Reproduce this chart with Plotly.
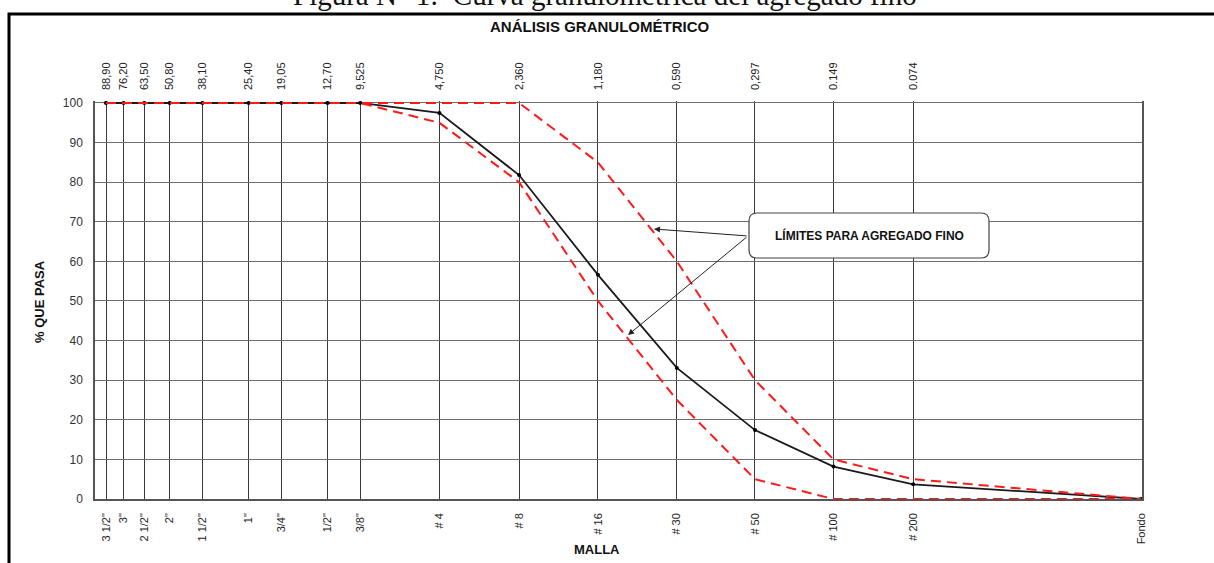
import plotly.graph_objects as go
import math

# ---- data ----
sieve_names = ['3 1/2"', '3"', '2 1/2"', '2"', '1 1/2"', '1"', '3/4"', '1/2"', '3/8"',
               '# 4', '# 8', '# 16', '# 30', '# 50', '# 100', '# 200', 'Fondo']
sieve_mm = [88.90, 76.20, 63.50, 50.80, 38.10, 25.40, 19.05, 12.70, 9.525,
            4.750, 2.360, 1.180, 0.590, 0.297, 0.149, 0.074, 0.01]
size_labels = ['88,90', '76,20', '63,50', '50,80', '38,10', '25,40', '19,05', '12,70', '9,525',
               '4,750', '2,360', '1,180', '0,590', '0,297', '0.149', '0.074']
pct_passing = [100, 100, 100, 100, 100, 100, 100, 100, 100,
               97.5, 81.8, 56.6, 33.1, 17.4, 8.2, 3.7, 0]
upper_limit = [100, 100, 100, 100, 100, 100, 100, 100, 100,
               100, 100, 85, 60, 30, 10, 5, 0]
lower_limit = [100, 100, 100, 100, 100, 100, 100, 100, 100,
               95, 80, 50, 25, 5, 0, 0, 0]

W, H = 1214, 563
L, R, B = 95, 1142, 499
Y100 = 103                      # pixel row of the 100 % line
PXU = (B - Y100) / 100.0        # pixels per percent
YTOP = 100.5                    # small headroom so the 100 % lines are not clipped
T = B - YTOP * PXU
FONT = "Liberation Sans, Arial, sans-serif"

pxdec = (1141 - 106) / (math.log10(88.9) - math.log10(0.01))
xmax_log = math.log10(88.9) + (106 - L) / pxdec
xmin_log = math.log10(0.01) - (R - 1141) / pxdec

def px_x(p):
    return (p - L) / (R - L)

def px_y(p):
    return (B - p) / (B - T)

fig = go.Figure()
fig.add_trace(go.Scatter(x=sieve_mm, y=pct_passing, mode='lines+markers',
                         line=dict(color='#1a1a1a', width=1.8),
                         marker=dict(color='#000000', size=4),
                         showlegend=False))
fig.add_trace(go.Scatter(x=sieve_mm, y=upper_limit, mode='lines',
                         line=dict(color='#ff1a1a', width=2, dash='10px,6px'),
                         showlegend=False, hoverinfo='skip'))
fig.add_trace(go.Scatter(x=sieve_mm, y=lower_limit, mode='lines',
                         line=dict(color='#ff1a1a', width=2, dash='10px,6px'),
                         showlegend=False, hoverinfo='skip'))
# invisible trace to show the top axis
fig.add_trace(go.Scatter(x=sieve_mm[:-1], y=pct_passing[:-1], xaxis='x2', mode='markers',
                         marker=dict(opacity=0), showlegend=False, hoverinfo='skip'))

fig.update_layout(
    width=W, height=H,
    margin=dict(l=L, r=W - R, t=T, b=H - B),
    paper_bgcolor='white', plot_bgcolor='white',
    font=dict(family=FONT, color='#222', size=11),
    xaxis=dict(type='log', range=[xmax_log, xmin_log], tickmode='array',
               tickvals=sieve_mm, ticktext=sieve_names, tickangle=-90,
               showgrid=True, gridcolor='#3a3a3a', gridwidth=1,
               showline=True, linecolor='#555', linewidth=1.5, mirror=False,
               layer='below traces',
               ticks='', ticklabelstandoff=8, zeroline=False,
               tickfont=dict(size=11, family=FONT, color='#222')),
    xaxis2=dict(type='log', range=[xmax_log, xmin_log], overlaying='x', side='top',
                tickmode='array', tickvals=sieve_mm[:-1], ticktext=size_labels,
                tickangle=-90, showgrid=False, showline=False, ticks='',
                ticklabelstandoff=10,
                tickfont=dict(size=11, family=FONT, color='#222')),
    yaxis=dict(range=[0, YTOP], tickmode='linear', tick0=0, dtick=10,
               showgrid=True, gridcolor='#6e6e6e', gridwidth=1.3,
               showline=True, linecolor='#555', linewidth=1.5, mirror=True,
               layer='below traces',
               ticks='', ticklabelstandoff=8, zeroline=False,
               tickfont=dict(size=12, family=FONT, color='#333')),
)

# page frame and caption
fig.add_shape(type='rect', xref='paper', yref='paper',
              x0=px_x(9), x1=px_x(1230), y0=px_y(580), y1=px_y(14),
              line=dict(color='#000', width=3), fillcolor='rgba(0,0,0,0)', layer='above')
fig.add_annotation(text='Figura N° 1:  Curva granulométrica del agregado fino',
                   xref='paper', yref='paper', x=px_x(605), y=px_y(13),
                   xanchor='center', yanchor='bottom', showarrow=False,
                   font=dict(family='Liberation Serif, Times New Roman, serif', size=29, color='#111'))

# titles
fig.add_annotation(text='<b>ANÁLISIS GRANULOMÉTRICO</b>', xref='paper', yref='paper',
                   x=px_x(599), y=px_y(27), xanchor='center', yanchor='middle', showarrow=False,
                   font=dict(family=FONT, size=15, color='#111'))
fig.add_annotation(text='<b>% QUE PASA</b>', xref='paper', yref='paper',
                   x=px_x(40), y=px_y(302), xanchor='center', yanchor='middle', showarrow=False,
                   textangle=-90, font=dict(family=FONT, size=13, color='#111'))
fig.add_annotation(text='<b>MALLA</b>', xref='paper', yref='paper',
                   x=px_x(597), y=px_y(549), xanchor='center', yanchor='middle', showarrow=False,
                   font=dict(family=FONT, size=13, color='#111'))

# callout box (rounded rectangle)
x0p, x1p, y0p, y1p = 749, 989, 213, 258
rad = 8
def P(px, py):
    return f"{px_x(px):.5f},{px_y(py):.5f}"
path = (f"M {P(x0p+rad, y0p)} L {P(x1p-rad, y0p)} Q {P(x1p, y0p)} {P(x1p, y0p+rad)} "
        f"L {P(x1p, y1p-rad)} Q {P(x1p, y1p)} {P(x1p-rad, y1p)} "
        f"L {P(x0p+rad, y1p)} Q {P(x0p, y1p)} {P(x0p, y1p-rad)} "
        f"L {P(x0p, y0p+rad)} Q {P(x0p, y0p)} {P(x0p+rad, y0p)} Z")
fig.add_shape(type='path', path=path, xref='paper', yref='paper',
              line=dict(color='#444', width=1.2), fillcolor='white', layer='above')
fig.add_annotation(text='<b>LÍMITES PARA AGREGADO FINO</b>', xref='paper', yref='paper',
                   x=px_x(869), y=px_y(236), xanchor='center', yanchor='middle', showarrow=False,
                   font=dict(family=FONT, size=12, color='#111'))

# arrows from the box to the limit curves
def logx(px):
    return xmax_log - (px - L) / pxdec
for hx, hy in [(654, 229), (628, 335)]:
    fig.add_annotation(x=logx(hx), y=(B - hy) / PXU, xref='x', yref='y',
                       text='', showarrow=True, arrowhead=2, arrowsize=1.2, arrowwidth=1,
                       arrowcolor='#222', ax=748 - hx, ay=236 - hy, standoff=0)

fig.write_html("out.html")
